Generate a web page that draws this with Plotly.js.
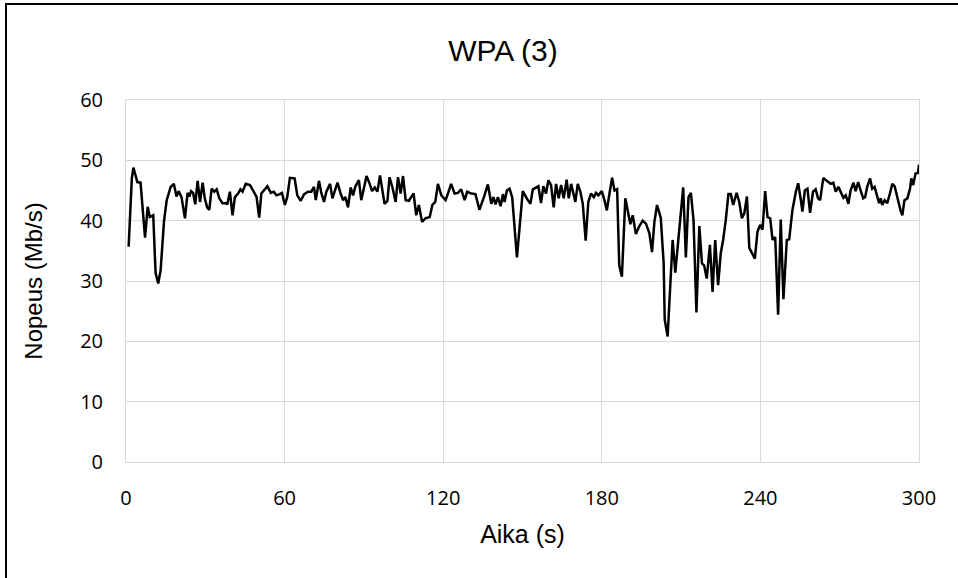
<!DOCTYPE html>
<html>
<head>
<meta charset="utf-8">
<script src="https://cdn.plot.ly/plotly-3.0.1.min.js"></script>
<style>
html,body{margin:0;padding:0;background:#fff;}
#chart{width:958px;height:578px;}
</style>
</head>
<body>
<div id="chart"></div>
<script>
const chartTitle = "WPA (3)";
const xTitle = "Aika (s)";
const yTitle = "Nopeus (Mb/s)";
const xTicks = [0, 60, 120, 180, 240, 300];
const yTicks = [0, 10, 20, 30, 40, 50, 60];

const timeSec = [
1.0,2.2,2.8,4.3,5.5,7.2,8.2,9.0,10.3,11.2,12.2,13.1,14.4,15.4,16.9,18.1,19.1,19.9,21.0,22.3,23.3,
24.0,24.6,25.4,26.2,27.1,28.0,29.0,29.8,30.7,31.5,32.4,33.4,34.3,35.3,36.5,37.8,38.3,39.3,40.3,41.2,
42.4,43.3,44.1,45.3,46.9,48.1,49.4,50.4,51.2,53.5,54.8,55.9,56.9,58.2,59.0,60.1,61.0,62.0,63.8,64.8,
66.1,67.4,68.9,70.1,71.1,71.8,73.0,73.9,74.9,75.8,77.2,78.1,79.0,80.0,81.2,82.1,83.0,84.0,85.0,85.9,
86.8,88.1,89.0,90.0,91.0,92.2,93.1,94.1,95.1,96.1,97.0,97.8,98.9,99.7,100.8,102.0,102.9,103.9,104.8,105.8,
107.0,107.9,108.8,109.8,110.8,112.0,113.3,114.9,115.9,117.0,118.0,119.3,120.9,121.8,123.0,124.3,125.6,126.8,128.1,129.1,
130.6,132.2,133.7,135.4,136.9,138.2,139.0,139.8,140.7,141.7,142.6,143.2,144.1,145.1,146.1,147.9,149.1,150.1,151.6,153.0,
153.9,155.1,156.0,157.0,157.9,158.9,159.8,160.8,161.8,162.7,163.7,164.6,165.6,166.7,167.5,168.4,169.3,170.0,170.9,171.9,
172.8,173.9,174.9,175.9,177.0,177.8,178.7,180.0,181.0,181.9,182.9,183.9,184.8,185.8,186.6,187.6,188.9,190.0,190.8,191.7,
192.9,194.2,195.5,196.7,198.0,199.0,199.9,200.9,202.3,203.4,203.8,204.9,206.8,207.8,209.0,210.8,211.8,212.8,213.7,214.7,
215.8,216.9,217.9,218.7,219.7,220.9,221.9,222.9,224.0,225.0,225.9,226.9,227.9,228.8,229.7,231.0,232.0,233.0,233.9,234.9,
235.8,236.8,237.9,238.9,239.9,240.8,241.8,242.7,243.7,244.6,245.6,246.7,247.7,248.7,250.0,250.9,252.1,253.4,254.3,255.3,
255.9,256.8,257.8,258.8,259.9,260.9,261.8,262.6,263.8,265.1,266.6,267.6,268.5,269.5,270.6,271.4,272.3,273.3,274.1,275.2,
276.0,277.0,277.9,278.9,279.6,280.4,281.5,282.3,283.2,284.0,284.9,285.5,286.1,287.0,288.0,289.0,289.9,290.8,292.0,293.0,
293.7,294.5,295.6,296.6,297.1,297.8,298.7,299.6,300];

const speedMbps = [
35.7,47.0,48.8,46.4,46.3,37.2,42.3,40.6,40.9,31.3,29.6,31.8,40,43.4,45.6,46.1,44,44.9,43.9,40.4,44.6,
44,44.9,44.6,42.7,46.6,43.1,46.3,43.7,42.2,41.8,45.3,44.8,45.2,43.7,42.9,42.9,42.7,44.8,40.9,43.9,
44.5,45.2,44.8,46.1,45.9,45,43.9,40.5,44.5,45.7,44.6,44.8,44.2,44.4,44.6,42.6,43.9,47.1,47,44.2,
43.3,44.4,44.8,44.8,45.6,43.4,46.6,44.6,43.1,44.8,46.1,43.7,44.8,46.3,44.5,43.4,43.9,42.2,45.5,44.2,
45.7,46.7,43.4,45.6,47.4,46.1,44.9,45.5,44.8,47.5,44.6,42.8,43.3,47.2,45.5,43.1,47.2,44.5,47.4,43.4,
43.3,43.9,44.5,40.9,42.6,39.8,40.4,40.6,42.6,43.1,46.1,44.2,43.4,44.5,46.1,44.5,44.6,45.2,43.4,44.8,
44.5,44.4,41.8,43.9,46,42.8,43.9,42.7,43.9,42.4,44.4,43.1,45,45.3,43.9,33.9,40.6,44.9,43.7,42.8,
45.2,45.5,45.7,42.9,45.7,44.5,46.7,45.9,42.2,46.1,43.7,45.9,43.7,46.8,43.7,46.1,44.5,43.1,46.1,44.8,
42.8,36.7,43.1,44.5,43.9,44.6,44.2,44.9,43.4,41.7,44.5,47.1,45,45.2,32.6,30.7,43.7,41.2,39.4,40.9,
37.8,39.1,40,39.5,37.9,34.8,39.8,42.6,40.5,33,23.6,20.8,36.8,31.4,36.8,45.5,33.9,43.9,44.6,40.1,
24.8,39.1,32.9,32.6,30.4,36,28.2,36.8,29.3,34.6,36.8,40.1,44.4,44.4,42.6,44.6,43.1,40.4,41.2,44,
35.5,34.6,33.7,38.2,39.3,38.5,44.9,40.6,40.4,36.8,37.3,24.4,40.2,27,36.8,36.9,41.7,44.8,46.2,43.4,
41.5,45,45.3,41.3,44.8,45.2,43.7,43.4,47.1,46.6,46.1,46.3,44.8,45.6,44.6,43.8,44.2,42.8,45,46.3,
44.9,46.4,45,43.7,43.9,45.6,47,45.3,45.6,44.5,42.9,43.7,42.6,43.4,42.9,44.5,46.1,45.7,43.4,41.7,
40.9,43.4,43.7,45.3,47,45.9,47.8,47.9,49.3];

// plot area in px: left 126, right 919, top 100, bottom 462
const L = 126, R = 919, T = 100, B = 462;
const px = v => (v - L) / (R - L);
const py = v => (B - v) / (B - T);

const trace = {
  x: timeSec,
  y: speedMbps,
  type: 'scatter',
  mode: 'lines',
  line: {color: '#000000', width: 2.5},
  hoverinfo: 'x+y'
};

const gridCol = '#d9d9d9';
const layout = {
  width: 958, height: 578,
  margin: {l: L, r: 958 - R, t: T, b: 578 - B, pad: 0},
  paper_bgcolor: '#ffffff',
  plot_bgcolor: '#ffffff',
  showlegend: false,
  title: {
    text: chartTitle,
    font: {family: 'Liberation Sans, Arial, sans-serif', size: 30, color: '#000000'},
    xref: 'container', x: 503/958, xanchor: 'center',
    yref: 'container', y: 1 - 50/578, yanchor: 'middle'
  },
  xaxis: {
    range: [0, 300],
    tickvals: xTicks,
    ticktext: xTicks.map(String),
    showgrid: true, gridcolor: gridCol, gridwidth: 1,
    showline: true, linecolor: gridCol, linewidth: 1, mirror: true,
    zeroline: false,
    ticks: '',
    ticklabelstandoff: 18,
    tickfont: {family: 'Open Sans, sans-serif', size: 20, color: '#000000'},
    title: {text: xTitle, standoff: 15,
      font: {family: 'Liberation Sans, Arial, sans-serif', size: 25, color: '#000000'}}
  },
  yaxis: {
    range: [0, 60],
    tickvals: yTicks,
    ticktext: yTicks.map(String),
    showgrid: true, gridcolor: gridCol, gridwidth: 1,
    showline: true, linecolor: gridCol, linewidth: 1, mirror: true,
    zeroline: false,
    ticks: '',
    ticklabelstandoff: 18,
    tickfont: {family: 'Open Sans, sans-serif', size: 20, color: '#000000'},
    title: {text: yTitle, standoff: 30,
      font: {family: 'Liberation Sans, Arial, sans-serif', size: 24, color: '#000000'}}
  },
  shapes: [
    {type: 'line', xref: 'paper', yref: 'paper', x0: px(6), x1: px(6), y0: py(4), y1: py(590),
     line: {color: '#000000', width: 2}},
    {type: 'line', xref: 'paper', yref: 'paper', x0: px(5), x1: px(970), y0: py(4), y1: py(4),
     line: {color: '#000000', width: 2}}
  ]
};

Plotly.newPlot('chart', [trace], layout, {displayModeBar: false, staticPlot: true});
</script>
</body>
</html>
